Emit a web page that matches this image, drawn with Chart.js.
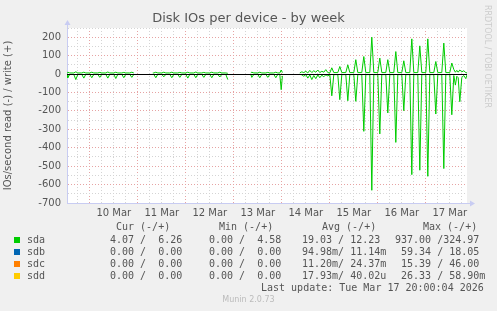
<!DOCTYPE html>
<html>
<head>
<meta charset="utf-8">
<script src="https://cdn.jsdelivr.net/npm/chart.js@4"></script>
<style>
  body { margin: 0; background: #f0f0f0; }
  #wrap { position: relative; width: 497px; height: 311px; overflow: hidden; }
  canvas { position: absolute; left: 0; top: 0; }
  .t { position: absolute; white-space: pre; font: 10px "DejaVu Sans Mono", monospace; color: #555; line-height: 12px; }
  .sq { position: absolute; width: 6px; height: 6px; }
  #title { position: absolute; left: 0; width: 497px; top: 10px; text-align: center; font: 13px "DejaVu Sans", sans-serif; color: #555; }
  #rrd { position: absolute; left: 483px; top: 5px; writing-mode: vertical-rl; font: 8px "DejaVu Sans", sans-serif; color: #ccc; }
  #munin { position: absolute; left: 0; width: 497px; top: 295px; text-align: center; font: 8px "DejaVu Sans", sans-serif; color: #bbb; }
</style>
</head>
<body>
<div id="wrap">
  <canvas id="chart" width="497" height="311"></canvas>
  <div id="title">Disk IOs per device - by week</div>
  <div id="rrd">RRDTOOL / TOBI OETIKER</div>
  <div id="legend"></div>
  <div id="munin">Munin 2.0.73</div>
</div>
<script>
// hours since 9 Mar 00:00, null = no data
const hours = [
  12.6, 13, 14, 16, 17, 18, 20, 21, 22, 24, 25, 26, 28, 29, 30, 32, 33, 34, 36, 37, 38, 40, 41, 42, 44, 45, 46, 47,
  55.5, 56, 57, 58, 60, 61, 62, 64, 65, 66, 68, 69, 70, 72, 73, 74, 76, 77, 78, 80, 81, 82, 84, 85, 86, 88, 89, 90, 92, 93, 94,
  104.5, 105, 106, 108, 109, 110, 112, 113, 114, 116, 117, 118, 119, 119.7, 120.3, 121,
  129, 130, 131, 132, 133, 134, 135, 136, 137, 138, 139, 140, 141, 142, 143, 144,
  145, 146, 148, 149, 150, 152, 153, 154, 156, 157, 158, 160, 161, 162, 164, 165, 166,
  168, 169, 170, 172, 173, 174, 176, 177, 178, 180, 181, 182, 184, 185, 186,
  188, 189, 190, 192, 193, 194, 196, 197, 198, 200, 201, 202, 204, 205,
  206, 206.8, 207.5, 208.2, 209, 210, 211, 212, 212.6
];
const sdaWrite = [
  6, 10, 6, 6, 12, 6, 6, 10, 6, 6, 10, 6, 6, 9, 6, 6, 11, 6, 6, 10, 6, 6, 9, 6, 6, 10, 6, null,
  6, 6, 10, 6, 6, 10, 6, 6, 10, 6, 6, 9, 6, 6, 10, 6, 6, 11, 6, 6, 9, 6, 6, 10, 6, 6, 10, 6, 6, 4, null,
  6, 10, 6, 6, 10, 6, 6, 9, 6, 6, 10, 6, 6, 22, 8, null,
  6, 12, 8, 15, 6, 20, 8, 18, 10, 22, 8, 15, 10, 24, 8, 6,
  34, 8, 8, 41, 8, 8, 50, 8, 8, 78, 8, 8, 95, 8, 8, 200, 8,
  8, 87, 8, 8, 78, 8, 8, 122, 8, 8, 72, 8, 8, 191, 8,
  8, 153, 8, 8, 191, 8, 8, 68, 8, 8, 168, 8, 8, 60,
  25, 10, 20, 10, 22, 12, 18, 8, 6
];
const sdaRead = [
  -2, -20, -2, -2, -30, -2, -2, -22, -2, -2, -20, -2, -2, -18, -2, -2, -22, -2, -2, -24, -2, -2, -20, -2, -2, -18, -2, null,
  -2, -2, -20, -2, -2, -15, -2, -2, -20, -2, -2, -18, -2, -2, -22, -2, -2, -20, -2, -2, -18, -2, -2, -20, -2, -2, -16, -2, -2, -30, null,
  -2, -18, -2, -2, -20, -2, -2, -18, -2, -2, -20, -2, -2, -85, -10, null,
  -2, -4, -12, -3, -22, -5, -30, -8, -25, -4, -20, -6, -15, -4, -10, -3,
  -118, -3, -3, -139, -3, -3, -145, -3, -3, -148, -3, -3, -311, -3, -3, -631, -3,
  -3, -325, -3, -3, -211, -3, -3, -371, -3, -3, -199, -3, -3, -546, -3,
  -3, -522, -3, -3, -555, -3, -3, -217, -3, -3, -513, -3, -3, -221,
  -8, -60, -12, -20, -150, -18, -8, -25, -4
];
const dayLabels = ['9 Mar', '10 Mar', '11 Mar', '12 Mar', '13 Mar', '14 Mar', '15 Mar', '16 Mar', '17 Mar'];

const devices = ['sda', 'sdb', 'sdc', 'sdd'];
const deviceColors = ['#00cc00', '#0066b3', '#ff8000', '#ffcc00'];
const curVals = ['4.07 /  6.26', '0.00 /  0.00', '0.00 /  0.00', '0.00 /  0.00'];
const minVals = ['0.00 /  4.58', '0.00 /  0.00', '0.00 /  0.00', '0.00 /  0.00'];
const avgVals = ['19.03 / 12.23', '94.98m/ 11.14m', '11.20m/ 24.37m', '17.93m/ 40.02u'];
const maxVals = ['937.00 /324.97', ' 59.34 / 18.05', ' 15.39 / 46.00', ' 26.33 / 58.90m'];
const lastUpdate = 'Last update: Tue Mar 17 20:00:04 2026';

// legend (html text)
const legend = document.getElementById('legend');
function addText(txt, x, y) {
  const d = document.createElement('div');
  d.className = 't';
  d.style.left = x + 'px';
  d.style.top = (y - 6) + 'px';
  d.textContent = txt;
  legend.appendChild(d);
}
addText('Cur (-/+)', 116, 227);
addText('Min (-/+)', 219, 227);
addText('Avg (-/+)', 322, 227);
addText('Max (-/+)', 423, 227);
devices.forEach((dev, i) => {
  const y = 240 + i * 12;
  const sq = document.createElement('div');
  sq.className = 'sq';
  sq.style.left = '14px';
  sq.style.top = (y - 3) + 'px';
  sq.style.background = deviceColors[i];
  legend.appendChild(sq);
  addText(dev, 27, y);
  addText(curVals[i], 110, y);
  addText(minVals[i], 209, y);
  addText(avgVals[i], 302, y);
  addText(maxVals[i], 395, y);
});
addText(lastUpdate, 261, 288);

const toPoints = (vals) => hours.map((h, i) => ({ x: h, y: vals[i] }));

const plotBg = {
  id: 'plotBg',
  beforeDraw(chart) {
    const { ctx, chartArea: a } = chart;
    ctx.save();
    ctx.fillStyle = '#ffffff';
    ctx.fillRect(a.left, a.top, a.right - a.left, a.bottom - a.top);
    ctx.restore();
  },
  afterDatasetsDraw(chart) {
    const { ctx, chartArea: a, scales } = chart;
    const y0 = Math.round(scales.y.getPixelForValue(0)) + 0.5;
    ctx.save();
    ctx.strokeStyle = '#000000';
    ctx.lineWidth = 1;
    ctx.beginPath();
    ctx.moveTo(a.left, y0);
    ctx.lineTo(a.right, y0);
    ctx.stroke();
    // axis arrows
    ctx.fillStyle = '#c8ccf2';
    ctx.strokeStyle = '#c8ccf2';
    const xl = a.left + 0.5;
    ctx.beginPath();
    ctx.moveTo(xl, a.top);
    ctx.lineTo(xl, a.top - 4);
    ctx.stroke();
    ctx.beginPath();
    ctx.moveTo(xl - 3, a.top - 3);
    ctx.lineTo(xl + 3, a.top - 3);
    ctx.lineTo(xl, a.top - 8);
    ctx.closePath();
    ctx.fill();
    const yb = a.bottom + 0.5;
    ctx.beginPath();
    ctx.moveTo(a.right, yb);
    ctx.lineTo(a.right + 4, yb);
    ctx.stroke();
    ctx.beginPath();
    ctx.moveTo(a.right + 3, yb - 3);
    ctx.lineTo(a.right + 3, yb + 3);
    ctx.lineTo(a.right + 8, yb);
    ctx.closePath();
    ctx.fill();
    ctx.restore();
  }
};

new Chart(document.getElementById('chart'), {
  type: 'line',
  data: {
    datasets: [
      {
        label: 'sda write',
        data: toPoints(sdaWrite),
        borderColor: '#00cc00',
        borderWidth: 1,
        pointRadius: 0,
        tension: 0,
        spanGaps: false,
      },
      {
        label: 'sda read',
        data: toPoints(sdaRead),
        borderColor: '#00cc00',
        borderWidth: 1,
        pointRadius: 0,
        tension: 0,
        spanGaps: false,
      },
    ],
  },
  options: {
    responsive: false,
    animation: false,
    devicePixelRatio: 1,
    layout: { padding: { top: 28, right: 30, left: 0, bottom: 0 } },
    plugins: {
      legend: { display: false },
      tooltip: { enabled: false },
    },
    scales: {
      x: {
        type: 'linear',
        min: 12.6,
        max: 212.6,
        afterFit: (s) => { s.height = 108; },
        ticks: {
          stepSize: 6,
          includeBounds: false,
          autoSkip: false,
          maxRotation: 0,
          padding: 4,
          color: '#555',
          font: { family: 'DejaVu Sans', size: 10 },
          callback: (v) => (v % 24 === 12 ? dayLabels[(v - 12) / 24] : ''),
        },
        grid: {
          drawTicks: false,
          color: (c) => (c.tick && c.tick.value % 24 === 0 ? '#e6a3a3' : '#d4d4d4'),
        },
        border: { color: '#c8ccf2', dash: [1, 2] },
      },
      y: {
        min: -700,
        max: 250,
        afterFit: (s) => { s.width = 67; },
        title: {
          display: true,
          text: 'IOs/second read (-) / write (+)',
          color: '#555',
          font: { family: 'DejaVu Sans', size: 10 },
          padding: { top: 2, bottom: 2 },
        },
        ticks: {
          stepSize: 50,
          includeBounds: false,
          autoSkip: false,
          padding: 6,
          color: '#555',
          font: { family: 'DejaVu Sans', size: 10 },
          callback: (v) => (v % 100 === 0 ? String(v) : ''),
        },
        grid: {
          drawTicks: false,
          color: (c) => (c.tick && c.tick.value % 100 === 0 ? '#e6a3a3' : '#d4d4d4'),
        },
        border: { color: '#c8ccf2', dash: [1, 2] },
      },
    },
  },
  plugins: [plotBg],
});
</script>
</body>
</html>
